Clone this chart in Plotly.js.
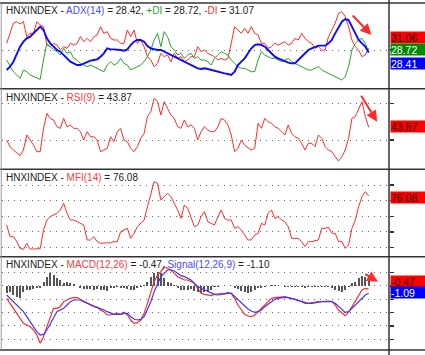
<!DOCTYPE html>
<html><head><meta charset="utf-8">
<script src="https://cdn.plot.ly/plotly-3.0.1.min.js"></script>
<style>html,body{margin:0;padding:0;background:#fff;overflow:hidden}#chart{width:425px;height:355px}</style>
</head><body><div id="chart"></div>
<script>
// ---- ADX panel ----
const minusDI = [34,40,46,47,45.6,47,38,40,40,47,45,44,33,32,34,33,30,32,31,34,33,34,38,35,37,35,38,39,44,40,41,37,36,36,34,34,42,38,42,34,36,32,26,24,20,22,28,26,27,23,28,25,26,23,24,26,26,32,29,30,28,27,
 26,24,25,24,25,34,44,42,40,43,40,44,40,39,34,34,31,32,34,33,34,35,33,34,37,36,40,37,35,34,31,32,30,30,38,42,46,52,53,50,44,36,32,30,26,27,31.07];
const adxLine = [18,20,23,28,32,35,37,38,40,42,44,42,37,34,32,30,29,27,25,23,22,21,21,22,23,23.6,24,24.4,26,28,31,30.4,30.4,30.4,30,29.6,30.4,33,35,36,36,35,32.4,31,30.4,30,30,29,28,27,26,25,24,23,22,21,20,19,18.6,19,18.6,18,
 17.6,17,16.6,16,15.6,15,17,21,23,25,28,31,33,33.4,33,32,30,28,26,25,24,23,22.4,22,22,24,26,28,30,31,32,32.6,32.6,32.6,34,36,40,44,47,48.6,48,44,40,36,34,32,28.42];
const plusDI = [24,20,17,15,13,18,17,15,14,13.4,12.4,24,34,32,30,29,27,31,28,29,25,24,22,21,20,21,20,19,18,17,21,23,21,22,25,22,21,18,19,20,21,23,26,30,36,40,32,41,38,32,30,27,28,25,27,28,25,26,24,24,23,21,
 25,27,29,28,27,24,22,20,19,19,18,17,17,24,29,27,26,25,25,24,23,24,25,23,22,21,20,19,18,18,19,20,18,17,16,15,14,13,12,14,20,30,34,36,37,34,28.72];
// ---- RSI panel ----
const rsi = [30,22.7,19.1,15.5,12.9,19.1,35.5,30,24.5,17.3,17.3,42.7,59.1,53.6,51.8,44.5,42.7,53.6,44.5,46.4,42.7,42.7,39.1,30,39.1,33.6,33.6,30,17.3,19.1,20.9,33.6,28.2,39.1,42.7,30,28.2,20.9,17.3,22.7,31.8,37.3,55.5,60.9,75.5,71.8,57.3,71.8,64.5,57.3,53.6,44.5,42.7,51.8,44.5,46.4,42.7,30,39.1,44.5,40.9,39.1,
 39.1,44.5,53.6,51.8,46.4,35.5,17.3,20.9,30,24.5,21.6,19.1,20.9,48.2,42.7,53.6,50,48.2,44.5,42.7,39.1,35.5,46.4,37.3,33.6,31.8,26.4,19.1,26.4,26.4,22.7,35.5,31.8,22.7,19.1,17.3,11.8,7.1,11.8,19.1,31.8,53.6,55.5,64.5,71.8,55.5,43.87];
// ---- MFI panel ----
const mfi = [38.9,24,24,17.7,9.1,7.9,15.5,8.3,8.3,8.3,8.7,32.6,45.3,49.6,51.7,53.8,58.1,66.6,53.8,45.3,45.3,43.2,41.1,38.9,19.8,19.8,24,17.7,15.5,15.5,15.5,16.4,17.7,17.7,30.4,32.6,34.7,21.9,28.3,36.8,41.1,45.3,62.3,79.4,94.3,92.1,70.9,75.1,79.4,75.1,66.6,58.1,47.4,64.5,60.2,49.6,36.8,38.9,49.6,56,43.2,41.1,
 38.9,49.6,58.1,47.4,45.3,45.3,34.7,36.8,32.6,26.2,19.8,19.8,26.2,28.3,41.1,38.9,53.8,58.1,47.4,49.6,45.3,43.2,36.8,21.9,21.9,21.9,17.7,11.3,17.7,17.7,18.9,19.8,34.7,34.7,36,28.3,28.3,17.7,17.7,9.1,13.4,34.7,45.3,62.3,75.1,81.5,76.08];
// ---- MACD panel ----
const macd = [-1.85,-2.6,-3.35,-4.1,-4.85,-5.6,-5.85,-6.1,-6.6,-7.35,-8.6,-7.6,-6.1,-4.85,-3.35,-3.35,-3.1,-2.35,-2.1,-1.85,-1.75,-1.75,-2.0,-2.35,-2.6,-2.85,-3.1,-3.2,-3.6,-3.85,-4.35,-4.35,-4.25,-4.1,-4.25,-3.95,-4.35,-5.1,-5.6,-5.5,-5.1,-4.1,-2.6,-1.1,0.65,1.65,2.15,2.9,2.65,2.4,1.9,1.4,1.15,0.9,0.9,0.65,0.4,-0.35,-1.1,-1.25,-1.35,-1.45,
 -1.25,-1.25,-1.15,-1.1,-1.0,-1.1,-1.85,-2.85,-3.6,-4.25,-4.5,-4.6,-4.35,-3.85,-3.35,-2.85,-2.35,-1.85,-1.75,-1.7,-1.65,-1.6,-1.75,-1.85,-1.95,-2.1,-2.35,-2.6,-2.6,-2.5,-2.45,-2.35,-2.35,-2.25,-2.25,-2.35,-2.85,-3.6,-4.1,-4.45,-3.95,-3.1,-2.35,-1.35,-0.6,-0.35,-0.47];
const signal = [-1.35,-1.85,-2.35,-2.85,-3.35,-3.85,-4.6,-5.35,-6.1,-6.85,-7.35,-7.25,-6.6,-5.6,-4.6,-3.85,-3.6,-3.35,-2.85,-2.35,-2.1,-2.1,-2.1,-2.35,-2.6,-2.85,-3.0,-3.2,-3.35,-3.6,-3.85,-4.1,-4.25,-4.25,-4.25,-4.1,-4.1,-4.6,-4.95,-5.1,-5.0,-4.6,-3.6,-2.35,-0.85,0.4,1.4,1.9,2.4,2.4,2.25,1.9,1.55,1.4,1.15,0.9,0.4,-0.1,-0.35,-0.6,-0.85,-1.1,
 -1.25,-1.35,-1.25,-1.2,-1.1,-1.1,-1.6,-2.1,-2.6,-3.1,-3.45,-3.75,-3.95,-3.85,-3.6,-3.1,-2.75,-2.35,-2.0,-1.85,-1.75,-1.7,-1.75,-1.85,-2.0,-2.2,-2.35,-2.5,-2.6,-2.6,-2.5,-2.45,-2.35,-2.35,-2.35,-2.35,-2.6,-3.1,-3.6,-3.95,-3.85,-3.35,-2.85,-2.35,-1.85,-1.35,-1.10];
const hist = [-1.1,-0.85,-1.35,-1.6,-1.85,-0.85,-0.6,-0.6,-0.5,-0.35,-0.25,0.65,1.4,1.9,1.65,1.15,0.9,0.4,0.65,0.4,0.25,0.05,-0.35,-0.5,-0.5,-0.45,-0.6,-0.5,-0.6,-0.6,-0.7,-0.35,-0.25,-0.2,-0.25,-0.35,-0.5,-0.6,-0.6,-0.35,-0.2,0.15,0.65,1.4,1.9,2.15,1.9,1.15,0.65,0.4,0.15,-0.25,-0.6,-0.6,-0.6,-0.5,-0.75,-0.85,-1.0,-0.95,-0.75,-0.6,
 -0.2,-0.15,-0.05,0,0.05,0,-0.35,-0.5,-0.7,-0.85,-1.0,-0.85,-0.6,-0.35,-0.25,-0.15,0.05,0.15,0.15,0.05,0,-0.1,-0.1,-0.15,-0.15,-0.1,-0.2,-0.25,-0.2,-0.1,-0.1,-0.1,-0.1,-0.1,-0.2,-0.35,-0.6,-0.75,-0.85,-0.6,-0.1,0.4,0.65,1.15,1.55,1.4,0.9];

// labels
const titleADX = ['HNXINDEX - ', 'ADX(14)', ' = 28.42, ', '+DI', ' = 28.72, ', '-DI', ' = 31.07'];
const titleRSI = ['HNXINDEX - ', 'RSI(9)', ' = 43.87'];
const titleMFI = ['HNXINDEX - ', 'MFI(14)', ' = 76.08'];
const titleMACD = ['HNXINDEX - ', 'MACD(12,26)', ' = -0.47, ', 'Signal(12,26,9)', ' = -1.10'];
const boxLabels = {minusDI:'31.06', plusDI:'28.72', adx:'28.41', rsi:'43.87', mfi:'76.08', macd:'-0.47', signal:'-1.09'};

const xs = adxLine.map((_, i) => i);
const last = xs.length - 1;

const RED = '#ff2b2b', GREEN = '#2e9e2e', BLUE = '#0a0aff', DARK = '#222';
const traces = [
  {x: xs, y: minusDI, type: 'scatter', mode: 'lines', yaxis: 'y', line: {color: RED, width: 1}},
  {x: xs, y: plusDI, type: 'scatter', mode: 'lines', yaxis: 'y', line: {color: GREEN, width: 1}},
  {x: xs, y: adxLine, type: 'scatter', mode: 'lines', yaxis: 'y', line: {color: BLUE, width: 1.9}},
  {x: xs, y: rsi, type: 'scatter', mode: 'lines', yaxis: 'y2', line: {color: RED, width: 1}},
  {x: xs, y: mfi, type: 'scatter', mode: 'lines', yaxis: 'y3', line: {color: RED, width: 1}},
  {x: xs, y: hist, type: 'bar', yaxis: 'y4', width: 0.6, marker: {color: '#555', line: {width: 0}}},
  {x: xs, y: macd, type: 'scatter', mode: 'lines', yaxis: 'y4', line: {color: RED, width: 1.2}},
  {x: xs, y: signal, type: 'scatter', mode: 'lines', yaxis: 'y4', line: {color: '#3838ff', width: 1.2}}
];

const common = {side: 'right', anchor: 'x', showticklabels: false, ticks: 'outside', ticklen: 4, tickwidth: 1.5,
  tickcolor: '#333', showgrid: true, gridcolor: '#666', griddash: '1px,5px', gridwidth: 1, zeroline: false,
  showline: false, fixedrange: true};

const D = [1, 0.7527, 0.5207, 0.2686, 0];

function sp(t, c) { return c ? '<span style="color:' + c + '">' + t + '</span>' : t; }
const FONT = {family: 'Arial, "Liberation Sans", sans-serif', size: 10, color: DARK};
function title(parts, colors, y) {
  return {xref: 'paper', yref: 'paper', x: 0.006, y: y, xanchor: 'left', yanchor: 'middle', showarrow: false,
    text: parts.map((p, i) => sp(p, colors[i])).join(''), font: FONT};
}
function box(text, val, yref, yshift, bg, fc) {
  return {xref: 'paper', x: 1, xanchor: 'left', xshift: 1, yref: yref, y: val, yanchor: 'middle', yshift: yshift,
    showarrow: false, text: text, bgcolor: bg, width: 40, height: 11, align: 'left', borderpad: 0,
    font: {family: 'Arial, "Liberation Sans", sans-serif', size: 10.5, color: fc}};
}
function arrow(xh, yh, xt, yt, yref) {
  return {xref: 'x', yref: yref, x: xh, y: yh, axref: 'x', ayref: yref, ax: xt, ay: yt, text: '',
    showarrow: true, arrowhead: 2, arrowsize: 1.1, arrowwidth: 2, arrowcolor: RED, standoff: 0, startstandoff: 0};
}

const annotations = [
  title(titleADX, [null, '#4a4aff', null, '#2e9e2e', null, '#ff3030', null], 0.979),
  title(titleRSI, [null, '#ff3a3a', null], 0.729),
  title(titleMFI, [null, '#ff3a3a', null], 0.497),
  title(titleMACD, [null, '#ff3a3a', null, '#4a4aff', null], 0.245),
  box(boxLabels.minusDI, minusDI[last], 'y', 10.7, '#ff0000', '#2a0000'),
  box(boxLabels.plusDI, plusDI[last], 'y', 2.3, '#008a00', '#ffffff'),
  box(boxLabels.adx, adxLine[last], 'y', -10.4, '#0000ff', '#ffffff'),
  box(boxLabels.rsi, rsi[last], 'y2', 0.8, '#ff0000', '#2a0000'),
  box(boxLabels.mfi, mfi[last], 'y3', -1.1, '#ff0000', '#2a0000'),
  box(boxLabels.macd, macd[last], 'y4', 7.9, '#ff0000', '#2a0000'),
  box(boxLabels.signal, signal[last], 'y4', 0.8, '#0000ff', '#ffffff'),
  arrow(108.8, 39, 102.8, 51.6, 'y'),
  arrow(110.5, 50, 105.5, 79.9, 'y2'),
  arrow(110.8, 0.65, 106.5, 1.9, 'y4')
];

const shapes = D.map(d => ({type: 'line', xref: 'paper', yref: 'paper', x0: -0.01, x1: 1.2, y0: d, y1: d,
  line: {color: '#333', width: 1.5}}));
shapes.push({type: 'line', xref: 'paper', yref: 'paper', x0: 1, x1: 1, y0: -0.02, y1: 1.01, line: {color: '#333', width: 1.5}});
shapes.push({type: 'line', xref: 'paper', yref: 'paper', x0: -0.002, x1: -0.002, y0: 0, y1: 1, line: {color: '#999', width: 1}});

const layout = {
  width: 425, height: 355,
  margin: {l: 2, r: 36, t: 3, b: 5},
  paper_bgcolor: '#fff', plot_bgcolor: '#fff',
  showlegend: false, bargap: 0,
  font: FONT,
  xaxis: {range: [-1.39, 114.06], anchor: 'y4', showgrid: false, zeroline: false, showticklabels: false,
    ticks: '', showline: false, fixedrange: true},
  yaxis: Object.assign({}, common, {domain: [D[1], D[0]], range: [6.72, 58.2], tickvals: [30]}),
  yaxis2: Object.assign({}, common, {domain: [D[2], D[1]], range: [-1.96, 85.85], tickvals: [30, 70]}),
  yaxis3: Object.assign({}, common, {domain: [D[3], D[2]], range: [-1.66, 110.04], tickvals: [10, 30, 50, 70, 90]}),
  yaxis4: Object.assign({}, common, {domain: [D[4], D[3]], range: [-9.6, 4.38], tickvals: [-8, -6, -4, -2, 0, 2]}),
  annotations: annotations,
  shapes: shapes
};

Plotly.newPlot('chart', traces, layout, {staticPlot: true, displayModeBar: false});
</script>
</body></html>
